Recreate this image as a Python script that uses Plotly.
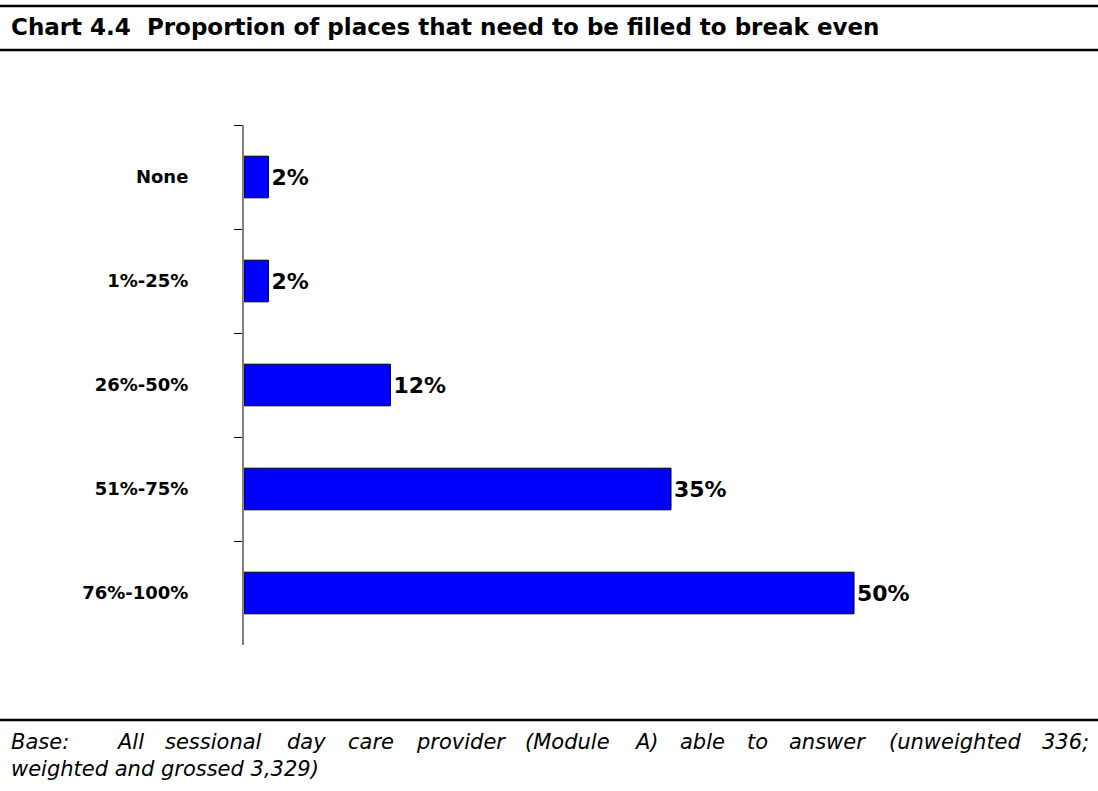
import plotly.graph_objects as go

# Survey results: share of sessional day care providers by break-even occupancy band
categories = ["None", "1%-25%", "26%-50%", "51%-75%", "76%-100%"]
percentages = [2, 2, 12, 35, 50]
value_labels = ["2%", "2%", "12%", "35%", "50%"]

title_text = "Chart 4.4  Proportion of places that need to be filled to break even"
base_line1 = ["Base:", "All", "sessional", "day", "care", "provider", "(Module",
              "A)", "able", "to", "answer", "(unweighted", "336;"]
base_line2 = "weighted and grossed 3,329)"

# Figure geometry (pixels)
FIG_W, FIG_H = 1098, 791
M_L, M_R, M_T, M_B = 244, 0, 125, 146
PLOT_W = FIG_W - M_L - M_R
PLOT_H = FIG_H - M_T - M_B


def xp(px):
    """Pixel x -> paper x."""
    return (px - M_L) / PLOT_W


def yp(py):
    """Pixel y (from top) -> paper y."""
    return (FIG_H - M_B - py) / PLOT_H


FONT = "DejaVu Sans, Arial, sans-serif"

fig = go.Figure(
    go.Bar(
        x=percentages,
        y=categories,
        orientation="h",
        width=0.4,
        marker=dict(color="#0000FF", line=dict(color="#000000", width=1)),
        text=value_labels,
        textposition="outside",
        textfont=dict(family=FONT, size=22, color="#000000", weight="bold"),
        constraintext="none",
        cliponaxis=False,
        hoverinfo="skip",
    )
)

fig.update_xaxes(
    range=[0, 70],
    visible=False,
    showgrid=False,
    zeroline=False,
)
fig.update_yaxes(
    type="category",
    categoryorder="array",
    categoryarray=categories,
    autorange="reversed",
    showline=True,
    linecolor="#808080",
    linewidth=2,
    ticks="outside",
    tickson="boundaries",
    ticklen=8,
    tickwidth=1,
    tickcolor="#000000",
    ticklabelstandoff=50,
    showgrid=False,
    zeroline=False,
    tickfont=dict(family=FONT, size=18, color="#000000", weight="bold"),
)

shapes = []
# Horizontal rules framing the title and the base note
for py in (6, 50, 720):
    shapes.append(dict(type="line", xref="paper", yref="paper",
                       x0=xp(0), x1=xp(FIG_W), y0=yp(py), y1=yp(py),
                       line=dict(color="#000000", width=2.5)))

annotations = [
    dict(text=title_text, xref="paper", yref="paper", x=xp(9), y=yp(27),
         xanchor="left", yanchor="middle", showarrow=False,
         font=dict(family=FONT, size=23, color="#000000", weight="bold")),
]

# First line of the base note is justified: each word at its own x position
word_x = [9, 114, 163, 285, 346, 414, 523, 632, 678, 745, 787, 887, 1040]
note_font = dict(family=FONT, size=21, color="#000000", style="italic")
for word, px in zip(base_line1, word_x):
    annotations.append(dict(text=word, xref="paper", yref="paper", x=xp(px), y=yp(742),
                            xanchor="left", yanchor="middle", showarrow=False,
                            font=note_font))
annotations.append(dict(text=base_line2, xref="paper", yref="paper", x=xp(9), y=yp(769),
                        xanchor="left", yanchor="middle", showarrow=False,
                        font=note_font))

fig.update_layout(
    width=FIG_W,
    height=FIG_H,
    margin=dict(l=M_L, r=M_R, t=M_T, b=M_B, pad=0),
    paper_bgcolor="#FFFFFF",
    plot_bgcolor="#FFFFFF",
    showlegend=False,
    shapes=shapes,
    annotations=annotations,
)

fig.write_html("out.html")
